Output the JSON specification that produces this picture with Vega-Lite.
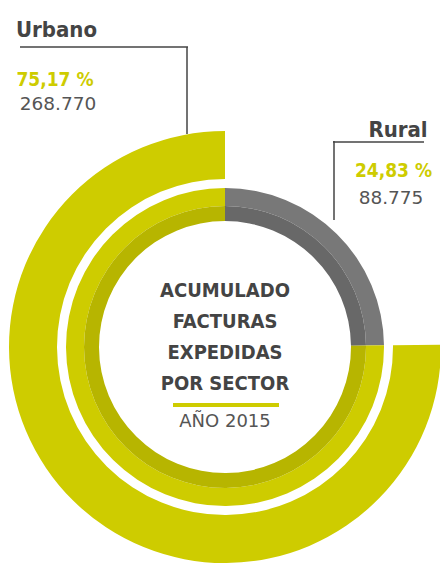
{
  "$schema": "https://vega.github.io/schema/vega-lite/v6.json",
  "autosize": {"type": "none"},
  "padding": {"left": 9, "top": 131, "right": 0, "bottom": 0},
  "width": 432,
  "height": 432,
  "background": "white",
  "config": {"view": {"stroke": null}},
  "datasets": {
    "sectors": [
      {"sector": "Rural", "pct": 24.83, "label": "24,83 %", "count": "88.775"},
      {"sector": "Urbano", "pct": 75.17, "label": "75,17 %", "count": "268.770"}
    ],
    "heading": [
      {"heading": "ACUMULADO\nFACTURAS\nEXPEDIDAS\nPOR SECTOR", "year": "AÑO 2015"}
    ]
  },
  "resolve": {"scale": {"x": "independent", "y": "independent", "color": "independent"}},
  "layer": [
    {
      "data": {"name": "sectors"},
      "mark": {"type": "arc", "radius": 216, "radius2": 168, "strokeWidth": 0},
      "encoding": {
        "theta": {"field": "pct", "type": "quantitative", "stack": true},
        "color": {"field": "sector", "type": "nominal", "legend": null,
          "scale": {"domain": ["Rural", "Urbano"], "range": ["rgba(0,0,0,0)", "#CECC00"]}}
      }
    },
    {
      "data": {"name": "sectors"},
      "mark": {"type": "arc", "radius": 159, "radius2": 141, "strokeWidth": 0},
      "encoding": {
        "theta": {"field": "pct", "type": "quantitative", "stack": true},
        "color": {"field": "sector", "type": "nominal", "legend": null,
          "scale": {"domain": ["Rural", "Urbano"], "range": ["#787878", "#CECC00"]}}
      }
    },
    {
      "data": {"name": "sectors"},
      "mark": {"type": "arc", "radius": 141, "radius2": 126, "strokeWidth": 0},
      "encoding": {
        "theta": {"field": "pct", "type": "quantitative", "stack": true},
        "color": {"field": "sector", "type": "nominal", "legend": null,
          "scale": {"domain": ["Rural", "Urbano"], "range": ["#686868", "#B7B500"]}}
      }
    },
    {
      "data": {"name": "sectors"},
      "mark": {"type": "text", "font": "DejaVu Sans Condensed, DejaVu Sans, sans-serif", "fontWeight": "bold", "fontSize": 22, "color": "#444444", "align": "center", "baseline": "alphabetic"},
      "encoding": {
        "x": {"field": "sector", "type": "nominal", "axis": null, "scale": {"type": "point", "domain": ["Urbano", "Rural"], "range": [47.5, 389], "padding": 0}},
        "y": {"field": "sector", "type": "nominal", "axis": null, "scale": {"type": "point", "domain": ["Urbano", "Rural"], "range": [-94, 6], "padding": 0}},
        "text": {"field": "sector", "type": "nominal"}
      }
    },
    {
      "data": {"name": "sectors"},
      "mark": {"type": "text", "font": "DejaVu Sans Condensed, DejaVu Sans, sans-serif", "fontWeight": "bold", "fontSize": 19, "color": "#CECC00", "align": "center", "baseline": "alphabetic"},
      "encoding": {
        "x": {"field": "sector", "type": "nominal", "axis": null, "scale": {"type": "point", "domain": ["Urbano", "Rural"], "range": [46, 384.5], "padding": 0}},
        "y": {"field": "sector", "type": "nominal", "axis": null, "scale": {"type": "point", "domain": ["Urbano", "Rural"], "range": [-45, 46], "padding": 0}},
        "text": {"field": "label", "type": "nominal"}
      }
    },
    {
      "data": {"name": "sectors"},
      "mark": {"type": "text", "font": "DejaVu Sans", "fontSize": 18.5, "color": "#555555", "align": "center", "baseline": "alphabetic"},
      "encoding": {
        "x": {"field": "sector", "type": "nominal", "axis": null, "scale": {"type": "point", "domain": ["Urbano", "Rural"], "range": [49, 382], "padding": 0}},
        "y": {"field": "sector", "type": "nominal", "axis": null, "scale": {"type": "point", "domain": ["Urbano", "Rural"], "range": [-21, 73], "padding": 0}},
        "text": {"field": "count", "type": "nominal"}
      }
    },
    {
      "data": {"name": "heading"},
      "mark": {"type": "text", "font": "DejaVu Sans Condensed, DejaVu Sans, sans-serif", "fontWeight": "bold", "fontSize": 20, "color": "#444444", "align": "center", "baseline": "alphabetic", "lineBreak": "\n", "lineHeight": 31, "dy": -50},
      "encoding": {"text": {"field": "heading", "type": "nominal"}}
    },
    {
      "data": {"name": "heading"},
      "mark": {"type": "tick", "orient": "horizontal", "size": 106, "thickness": 4, "color": "#CECC00", "opacity": 1, "yOffset": 58, "xOffset": 1},
      "encoding": {}
    },
    {
      "data": {"name": "heading"},
      "mark": {"type": "text", "font": "DejaVu Sans", "fontSize": 18, "color": "#555555", "align": "center", "baseline": "alphabetic", "dy": 80},
      "encoding": {"text": {"field": "year", "type": "nominal"}}
    },
    {
      "data": {"name": "sectors"},
      "transform": [{"filter": "datum.sector === 'Urbano'"}],
      "mark": {"type": "rule", "color": "#444444", "strokeWidth": 1.5},
      "encoding": {"x": {"value": 11}, "x2": {"value": 179}, "y": {"value": -84}}
    },
    {
      "data": {"name": "sectors"},
      "transform": [{"filter": "datum.sector === 'Urbano'"}],
      "mark": {"type": "rule", "color": "#444444", "strokeWidth": 1.5},
      "encoding": {"x": {"value": 178}, "y": {"value": -84}, "y2": {"value": 3}}
    },
    {
      "data": {"name": "sectors"},
      "transform": [{"filter": "datum.sector === 'Rural'"}],
      "mark": {"type": "rule", "color": "#444444", "strokeWidth": 1.5},
      "encoding": {"x": {"value": 324}, "x2": {"value": 415}, "y": {"value": 11}}
    },
    {
      "data": {"name": "sectors"},
      "transform": [{"filter": "datum.sector === 'Rural'"}],
      "mark": {"type": "rule", "color": "#444444", "strokeWidth": 1.5},
      "encoding": {"x": {"value": 325}, "y": {"value": 10}, "y2": {"value": 89}}
    }
  ]
}
